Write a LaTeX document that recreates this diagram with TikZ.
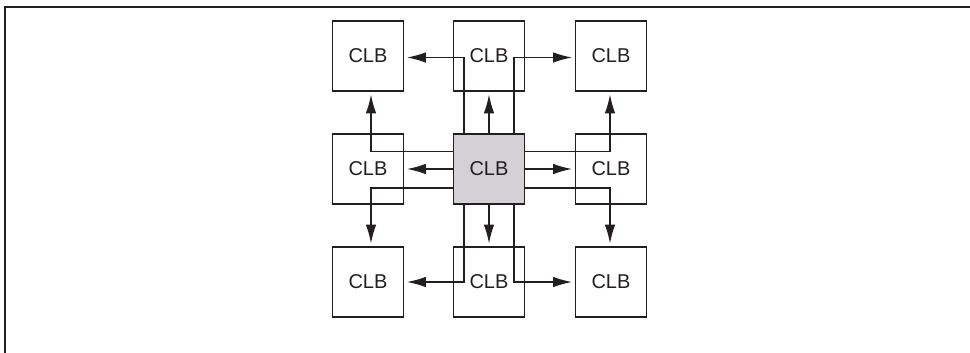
\documentclass[tikz,border=0pt]{standalone}
\usepackage{fontspec}
\setmainfont{Liberation Sans}
\usetikzlibrary{arrows.meta}
\definecolor{clbgray}{RGB}{211,209,214}
\definecolor{ink}{RGB}{35,31,32}
\begin{document}
\begin{tikzpicture}[x=1pt,y=-1pt,
  clb/.style={draw=ink,line width=1.7pt,minimum width=71pt,minimum height=70pt,inner sep=0pt,
     font=\fontsize{20}{23}\selectfont,text=ink},
  arr/.style={draw=ink,line width=1.6pt,-{Latex[length=19pt,width=10.5pt]},shorten >=2.5pt},
  frame/.style={draw=ink,line width=2pt}]
\useasboundingbox (0,0) rectangle (970,353);
\draw[frame] (970,7.5) -- (4.5,7.5) -- (4.5,353);
\node[clb] (tl) at (368,56) {CLB};
\node[clb] (tm) at (489,56) {CLB};
\node[clb] (tr) at (611,56) {CLB};
\node[clb] (ml) at (368,169) {CLB};
\node[clb,fill=clbgray] (c) at (489,169) {CLB};
\node[clb] (mr) at (611,169) {CLB};
\node[clb] (bl) at (368,282) {CLB};
\node[clb] (bm) at (489,282) {CLB};
\node[clb] (br) at (611,282) {CLB};
% upward
\draw[arr] (c.north) -- (tm.south);
\draw[arr] ([xshift=-25pt]c.north) |- ([yshift=-1.5pt]tl.east);
\draw[arr] ([xshift=25pt]c.north) |- ([yshift=-1.5pt]tr.west);
\draw[arr] ([yshift=17.5pt]c.west) -| ([xshift=3pt]tl.south);
\draw[arr] ([yshift=17.5pt]c.east) -| ([xshift=-1pt]tr.south);
% sideways
\draw[arr] (c.west) -- (ml.east);
\draw[arr] (c.east) -- (mr.west);
% downward
\draw[arr] (c.south) -- (bm.north);
\draw[arr] ([yshift=-19pt]c.west) -| ([xshift=3pt]bl.north);
\draw[arr] ([yshift=-19pt]c.east) -| ([xshift=-1pt]br.north);
\draw[arr] ([xshift=-25pt]c.south) |- (bl.east);
\draw[arr] ([xshift=25pt]c.south) |- (br.west);
\end{tikzpicture}
\end{document}
